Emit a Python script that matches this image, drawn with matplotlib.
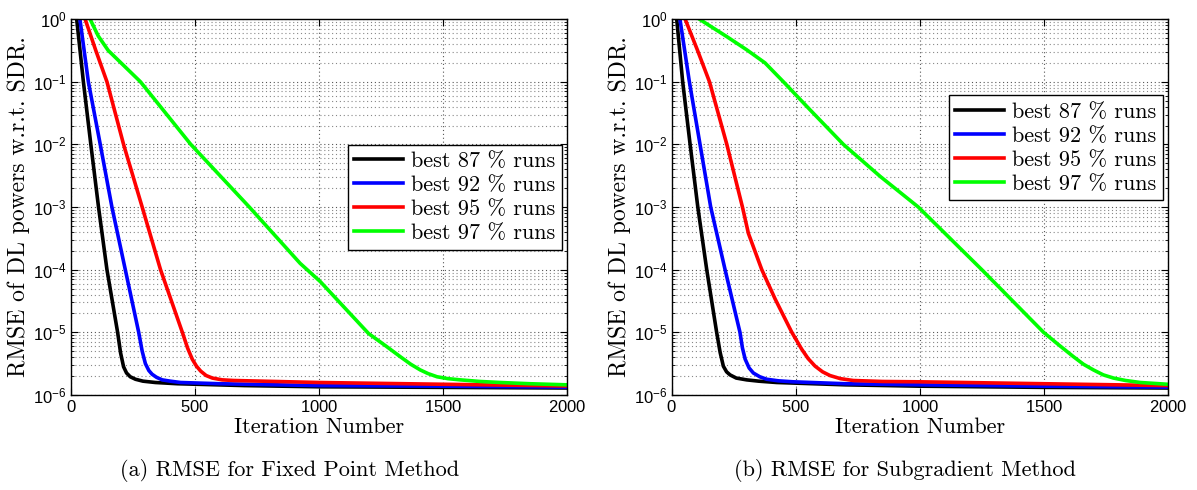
import matplotlib
matplotlib.use('Agg')
import matplotlib.pyplot as plt
from matplotlib.ticker import LogLocator, NullFormatter, FixedLocator

plt.rcParams['font.family'] = 'Liberation Sans'
plt.rcParams['mathtext.fontset'] = 'custom'
plt.rcParams['mathtext.rm'] = 'Liberation Sans'
plt.rcParams['mathtext.it'] = 'Liberation Sans:italic'
plt.rcParams['axes.formatter.use_mathtext'] = True

SERIF = 'cmr10'

labels = ['best 87 % runs', 'best 92 % runs', 'best 95 % runs', 'best 97 % runs']
colors = ['#000000', '#0000ff', '#ff0000', '#00ff00']

# (a) fixed point method
fp_x_87 = [23, 50, 80, 111, 145, 188, 200, 212, 224, 239, 260, 290, 340, 429, 700, 1000, 1500, 2000]
fp_y_87 = [1.0, 1e-1, 1e-2, 1e-3, 1e-4, 1e-5, 4.68e-6, 2.82e-6, 2.24e-6, 1.95e-6, 1.78e-6, 1.66e-6,
           1.58e-6, 1.51e-6, 1.41e-6, 1.35e-6, 1.32e-6, 1.29e-6]
fp_x_92 = [36, 70, 118, 165, 219, 273, 287, 300, 314, 327, 345, 368, 400, 442, 600, 1000, 1500, 2000]
fp_y_92 = [1.0, 1e-1, 1e-2, 1e-3, 1e-4, 1e-5, 5.01e-6, 3.16e-6, 2.45e-6, 2.14e-6, 1.91e-6, 1.74e-6,
           1.66e-6, 1.58e-6, 1.51e-6, 1.41e-6, 1.38e-6, 1.33e-6]
fp_x_95 = [57, 100, 145, 212, 287, 361, 449, 470, 489, 506, 523, 545, 570, 610, 657, 1000, 1500, 2000]
fp_y_95 = [1.0, 0.316, 1e-1, 1e-2, 1e-3, 1e-4, 1e-5, 5.62e-6, 3.72e-6, 2.88e-6, 2.40e-6, 2.04e-6,
           1.86e-6, 1.74e-6, 1.70e-6, 1.58e-6, 1.48e-6, 1.39e-6]
fp_x_97 = [77, 110, 150, 280, 483, 719, 924, 1005, 1200, 1270, 1328, 1370, 1408, 1440, 1476, 1520,
           1570, 1650, 1731, 1850, 2000]
fp_y_97 = [1.0, 0.537, 0.316, 1e-1, 1e-2, 1e-3, 1.26e-4, 6.46e-5, 9.55e-6, 6.03e-6, 4.07e-6, 3.09e-6,
           2.51e-6, 2.19e-6, 1.95e-6, 1.82e-6, 1.74e-6, 1.64e-6, 1.58e-6, 1.51e-6, 1.45e-6]

# (b) subgradient method
sg_x_87 = [20, 44, 74, 105, 141, 181, 195, 208, 221, 235, 260, 302, 350, 423, 700, 1000, 1500, 2000]
sg_y_87 = [1.0, 1e-1, 1e-2, 1e-3, 1e-4, 1e-5, 4.79e-6, 2.88e-6, 2.34e-6, 2.09e-6, 1.86e-6, 1.74e-6,
           1.66e-6, 1.58e-6, 1.45e-6, 1.38e-6, 1.32e-6, 1.29e-6]
sg_x_92 = [33, 71, 114, 157, 215, 275, 285, 296, 312, 329, 355, 383, 430, 490, 700, 1000, 1500, 2000]
sg_y_92 = [1.0, 1e-1, 1e-2, 1e-3, 1e-4, 1e-5, 5.62e-6, 3.72e-6, 2.69e-6, 2.24e-6, 1.95e-6, 1.78e-6,
           1.68e-6, 1.62e-6, 1.51e-6, 1.45e-6, 1.38e-6, 1.33e-6]
sg_x_95 = [54, 103, 152, 222, 285, 309, 363, 417, 484, 524, 550, 578, 608, 638, 680, 732, 850, 1000,
           1500, 2000]
sg_y_95 = [1.0, 0.324, 1e-1, 1e-2, 1e-3, 3.8e-4, 1e-4, 3.39e-5, 1e-5, 5.37e-6, 3.80e-6, 2.88e-6,
           2.34e-6, 2.04e-6, 1.82e-6, 1.70e-6, 1.64e-6, 1.62e-6, 1.51e-6, 1.41e-6]
sg_x_97 = [111, 222, 302, 376, 450, 558, 692, 840, 994, 1250, 1499, 1560, 1620, 1660, 1700, 1740,
           1781, 1830, 1889, 2000]
sg_y_97 = [1.0, 0.525, 0.324, 0.2, 1e-1, 3.55e-2, 1e-2, 3.09e-3, 1e-3, 1e-4, 1e-5, 6.31e-6, 4.07e-6,
           3.09e-6, 2.51e-6, 2.09e-6, 1.86e-6, 1.70e-6, 1.58e-6, 1.48e-6]

xticks = [0, 500, 1000, 1500, 2000]


def draw_panel(ax, series, legend_anchor):
    for (x, y), lab, c in zip(series, labels, colors):
        ax.semilogy(x, y, color=c, lw=2.6, label=lab)
    ax.set_xlim(0, 2000)
    ax.set_ylim(1e-6, 1)
    ax.xaxis.set_major_locator(FixedLocator(xticks))
    ax.yaxis.set_major_locator(LogLocator(base=10, numticks=10))
    ax.yaxis.set_minor_locator(LogLocator(base=10, subs=range(2, 10), numticks=20))
    ax.yaxis.set_minor_formatter(NullFormatter())
    ax.grid(True, which='major', linestyle=(0, (1, 2.5)), color='#555555', lw=0.8)
    ax.grid(True, which='minor', axis='y', linestyle=(0, (1, 2.5)), color='#888888', lw=0.8)
    ax.tick_params(which='both', direction='in', top=True, right=True, labelsize=12)
    ax.tick_params(which='major', length=5, pad=3)
    ax.tick_params(which='minor', length=2.5)
    for s in ax.spines.values():
        s.set_linewidth(1.0)
    ax.set_xlabel('Iteration Number', family=SERIF, fontsize=16, labelpad=2)
    ax.set_ylabel('RMSE of DL powers w.r.t. SDR.', family=SERIF, fontsize=17, labelpad=2)
    leg = ax.legend(loc='upper right', bbox_to_anchor=legend_anchor, prop={'family': SERIF, 'size': 16},
                    fancybox=False, framealpha=1, edgecolor='black', handlelength=2.2,
                    borderpad=0.3, labelspacing=0.2, handletextpad=0.35, borderaxespad=0)
    leg.get_frame().set_linewidth(1.0)


fig = plt.figure(figsize=(11.97, 4.9), dpi=100)
ax1 = fig.add_axes([0.0593, 0.194, 0.4144, 0.767])
ax2 = fig.add_axes([0.5612, 0.194, 0.4144, 0.767])

draw_panel(ax1, [(fp_x_87, fp_y_87), (fp_x_92, fp_y_92), (fp_x_95, fp_y_95), (fp_x_97, fp_y_97)],
           (0.99, 0.665))
draw_panel(ax2, [(sg_x_87, sg_y_87), (sg_x_92, sg_y_92), (sg_x_95, sg_y_95), (sg_x_97, sg_y_97)],
           (0.99, 0.797))

fig.text(290 / 1197, 1 - 470 / 490, '(a) RMSE for Fixed Point Method', family=SERIF, fontsize=16,
         ha='center', va='center')
fig.text(905 / 1197, 1 - 470 / 490, '(b) RMSE for Subgradient Method', family=SERIF, fontsize=16,
         ha='center', va='center')

fig.savefig('out.png', dpi=100)
